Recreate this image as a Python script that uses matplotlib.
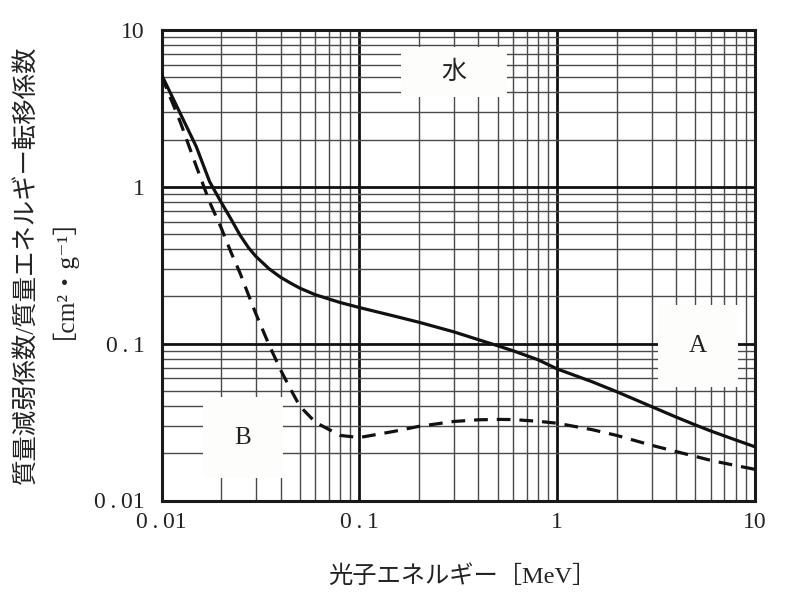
import matplotlib
matplotlib.use("Agg")
import matplotlib.pyplot as plt
from matplotlib.patches import Rectangle
from matplotlib.ticker import FixedLocator, FixedFormatter, NullFormatter, LogLocator

# ---- data ----
energy = [0.01, 0.0125, 0.015, 0.0175, 0.02, 0.0225, 0.025, 0.0275, 0.03, 0.035,
          0.04, 0.045, 0.05, 0.06, 0.08, 0.1, 0.15, 0.2, 0.3, 0.4,
          0.5, 0.6, 0.8, 1.0, 1.5, 2.0, 3.0, 4.0, 5.0, 6.0,
          8.0, 10.0]
mu_rho = [5.2, 2.9, 1.8, 1.08, 0.80, 0.62, 0.49, 0.41, 0.36, 0.30,
          0.265, 0.243, 0.226, 0.205, 0.183, 0.170, 0.150, 0.137, 0.119, 0.106,
          0.097, 0.090, 0.079, 0.069, 0.0572, 0.0494, 0.0397, 0.0340, 0.0303, 0.0277,
          0.0243, 0.0220]
mu_tr_rho = [5.1, 2.55, 1.35, 0.80, 0.55, 0.38, 0.28, 0.205, 0.155, 0.098,
             0.068, 0.051, 0.040, 0.0315, 0.026, 0.0252, 0.0276, 0.0297, 0.0319, 0.0327,
             0.0329, 0.0328, 0.0320, 0.0311, 0.0283, 0.0260, 0.0225, 0.0205, 0.0191, 0.0180,
             0.0167, 0.0158]
tick_vals = [0.01, 0.1, 1, 10]
tick_labels = ["0\u2009.\u200901", "0\u2009.\u20091", "1", "10"]
label_water = "水"
label_a = "A"
label_b = "B"
xlabel = "光子エネルギー［MeV］"
ylabel1 = "質量減弱係数/質量エネルギー転移係数"
ylabel2 = "［cm²・g⁻¹］"

serif_cjk = ["Liberation Serif", "Noto Sans CJK JP", "DejaVu Serif"]

fig = plt.figure(figsize=(8.06, 6.08), dpi=100)
ax = fig.add_axes([161.5 / 806, (608 - 500.5) / 608, 593.5 / 806, 470.5 / 608])
ax.set_xscale("log")
ax.set_yscale("log")
ax.set_xlim(0.01, 10)
ax.set_ylim(0.01, 10)

for axis in (ax.xaxis, ax.yaxis):
    axis.set_major_locator(FixedLocator(tick_vals))
    axis.set_major_formatter(FixedFormatter(tick_labels))
    axis.set_minor_locator(LogLocator(base=10, subs=range(2, 10)))
    axis.set_minor_formatter(NullFormatter())

ax.set_axisbelow(True)
ax.grid(which="major", color="#111111", linewidth=2.0)
ax.grid(which="minor", color="#4a4a4a", linewidth=1.0)
ax.tick_params(which="both", length=0, labelsize=17,
               labelfontfamily=["Liberation Serif", "DejaVu Serif"],
               labelcolor="#222222")
ax.tick_params(axis="x", pad=8)
ax.tick_params(axis="y", pad=12)
for sp in ax.spines.values():
    sp.set_linewidth(2.2)
    sp.set_color("#1a1a1a")

ax.plot(energy, mu_rho, color="#111111", lw=2.3, zorder=3)
ax.plot(energy, mu_tr_rho, color="#111111", lw=2.3, dashes=(4.3, 2.8), zorder=3)

# white label boxes (axes-fraction placement)
boxes = [
    (0.4035, 0.8576, 0.1786, 0.1063, label_water),
    (0.8366, 0.2412, 0.1348, 0.1743, label_a),
    (0.0699, 0.0478, 0.1348, 0.1722, label_b),
]
for x0, y0, w, h, txt in boxes:
    ax.add_patch(Rectangle((x0, y0), w, h, transform=ax.transAxes,
                           facecolor="#fdfdfb", edgecolor="none", zorder=1.5))
    ax.text(x0 + w / 2, y0 + h / 2, txt, transform=ax.transAxes,
            ha="center", va="center", fontsize=18, family=serif_cjk,
            color="#222222", zorder=4)

fig.text(462 / 806, 1 - 577 / 608, xlabel, ha="center", va="center",
         fontsize=17.5, family=serif_cjk, color="#222222")
fig.text(38 / 806, 1 - 265 / 608, ylabel1 + "\n" + ylabel2, ha="center",
         va="center", multialignment="center", linespacing=0.9,
         rotation=90, fontsize=18.3, family=serif_cjk, color="#222222")

fig.savefig("out.png", dpi=100, facecolor="white")
